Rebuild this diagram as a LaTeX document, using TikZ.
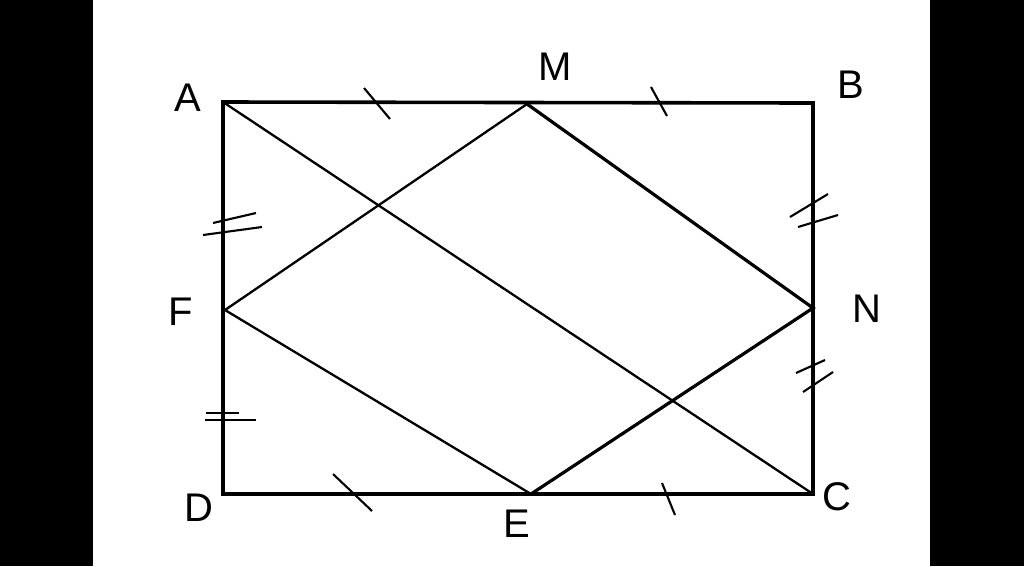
\documentclass[tikz,border=0pt]{standalone}
\usepackage{fontspec}
\setmainfont{Liberation Sans}
\begin{document}
\begin{tikzpicture}[x=1pt,y=-1pt,
  lab/.style={font=\fontsize{40}{40}\selectfont, inner sep=0pt},
  side/.style={line width=3.6pt, line cap=round, line join=miter},
  thin/.style={line width=2.3pt},
  thick2/.style={line width=3.2pt},
  tick/.style={line width=2.1pt}]
\useasboundingbox (0,0) rectangle (1024,566);
\fill[black] (0,0) rectangle (93,566);
\fill[black] (930,0) rectangle (1024,566);
\coordinate (A) at (223,102);
\coordinate (M) at (527,104);
\coordinate (B) at (813,103);
\coordinate (F) at (225,310);
\coordinate (N) at (813,308);
\coordinate (D) at (223,494);
\coordinate (E) at (531,494);
\coordinate (C) at (813,494);
\draw[side] (A) -- (B) -- (C) -- (D) -- cycle;
\draw[thin] (A) -- (C);
\draw[thin] (M) -- (F) -- (E);
\draw[thick2] (M) -- (N) -- (E);
% ticks
\draw[tick] (364,88) -- (390,119);
\draw[tick] (651,87) -- (667,116);
\draw[tick] (333,474) -- (372,511);
\draw[tick] (662,483) -- (675,515);
\draw[tick] (213,223) -- (256,213);
\draw[tick] (203,235) -- (262,227);
\draw[tick] (206,413) -- (239,413);
\draw[tick] (205,420) -- (256,420);
\draw[tick] (790,217) -- (828,194);
\draw[tick] (798,227) -- (838,215);
\draw[tick] (796,373) -- (825,360);
\draw[tick] (803,392) -- (833,372);
% labels
\node[lab] (lA) at (188,98) {A};
\node[lab] (lM) at (555,67) {M};
\node[lab] (lB) at (851,85) {B};
\node[lab] (lF) at (181,312) {F};
\node[lab] (lN) at (867,309) {N};
\node[lab] (lD) at (199,508) {D};
\node[lab] (lE) at (517,524) {E};
\node[lab] (lC) at (837,497) {C};
\end{tikzpicture}
\end{document}
